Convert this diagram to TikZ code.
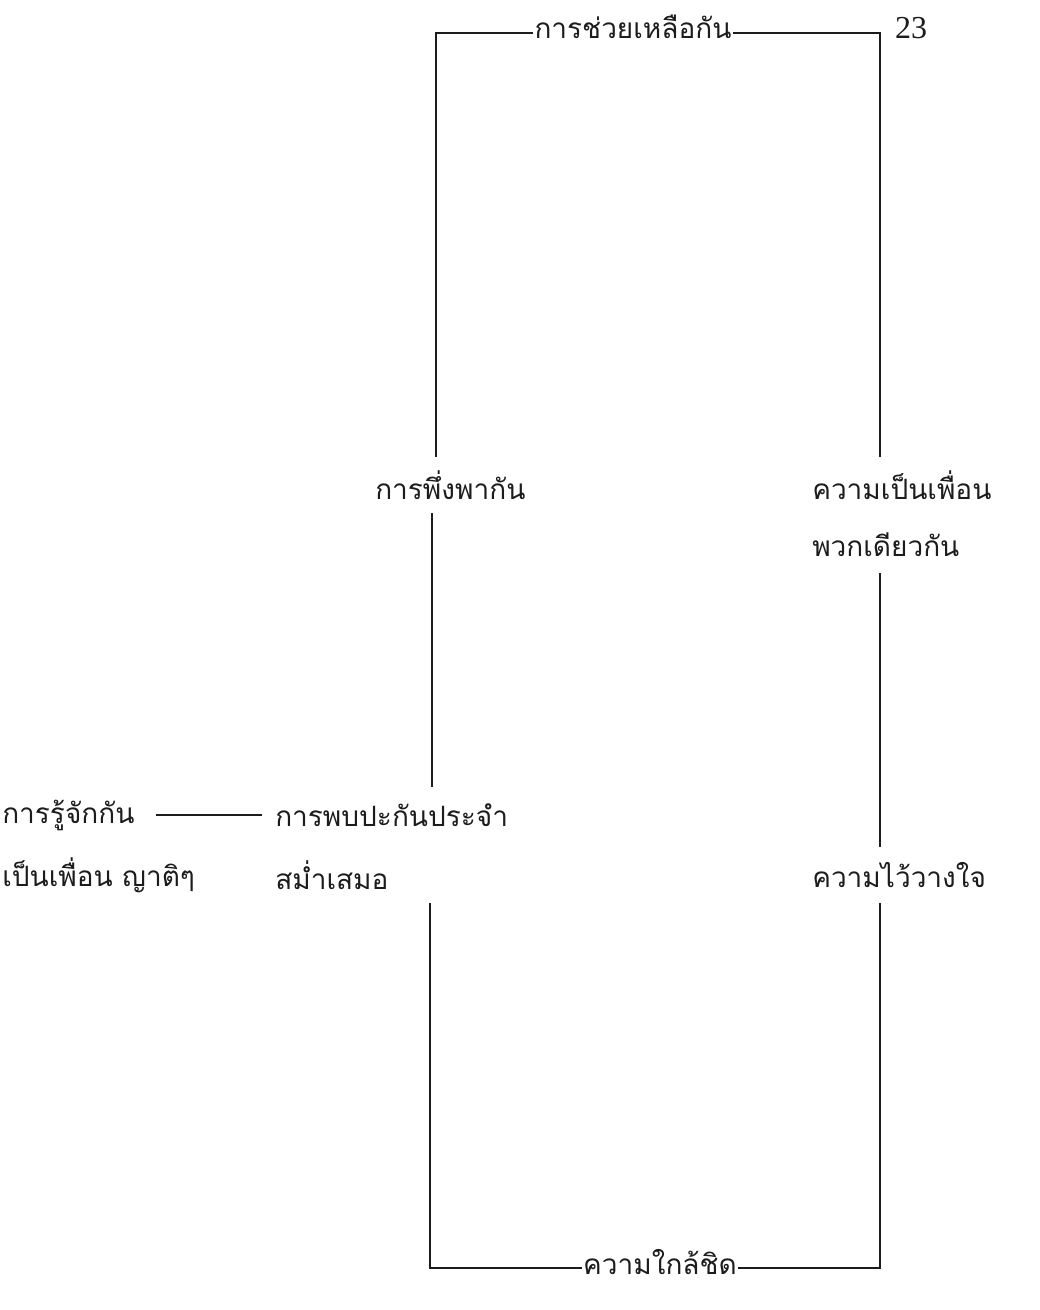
\documentclass[tikz,border=0pt]{standalone}
\usepackage{fontspec}
\setmainfont{Liberation Serif}
\newfontfamily\thaifont[Script=Thai]{Loma}
\usetikzlibrary{positioning}
\definecolor{ink}{HTML}{1C1C1C}
\tikzset{
  lbl/.style  = {font=\thaifont\fontsize{21}{25}\selectfont, text=ink,
                 inner xsep=0pt, inner ysep=0pt, minimum height=42pt, anchor=west},
  onln/.style = {font=\thaifont\fontsize{21}{25}\selectfont, text=ink,
                 inner xsep=1pt, inner ysep=0pt},
  link/.style = {draw=ink, line width=1.1pt},
}

\begin{document}
\begin{tikzpicture}[x=0.75pt,y=-0.75pt]
  \useasboundingbox (0,0) rectangle (1039,1310);
  \coordinate (tl) at (436,33);
  \coordinate (tr) at (880,33);
  \coordinate (ml) at (432,33);
  \coordinate (bl) at (430,1268);
  \coordinate (br) at (880,1268);
  \node[onln] (help) at (633,27) {การช่วยเหลือกัน};
  \node[onln] (close) at (660,1262) {ความใกล้ชิด};
  \node[font=\fontsize{24}{28}\selectfont, text=ink, inner sep=0pt] (page) at (911,28) {23};
  \node[lbl] (depend) at (375,485) {การพึ่งพากัน};
  \node[lbl] (friend) at (812,485) {ความเป็นเพื่อน};
  \node[lbl] (group) at (812,545) {พวกเดียวกัน};
  \node[lbl] (trust) at (812,875) {ความไว้วางใจ};
  \node[lbl] (know) at (2,815) {การรู้จักกัน};
  \node[lbl] (know2) at (2,875) {เป็นเพื่อน ญาติๆ};
  \node[lbl] (meet) at (275,815) {การพบปะกันประจำ};
  \node[lbl] (meet2) at (275,875) {สม่ำเสมอ};
  \draw[link] (help.west |- tl) -- (tl) -- (depend.north -| tl);
  \draw[link] (help.east |- tr) -- (tr) -- (friend.north -| tr);
  \draw[link] (depend.south -| ml) -- (meet.north -| ml);
  \draw[link] (group.south -| tr) -- (trust.north -| tr);
  \draw[link] (meet2.south -| bl) -- (bl) -- (close.west |- bl);
  \draw[link] (trust.south -| br) -- (br) -- (close.east |- br);
  \draw[link, shorten <=16pt, shorten >=10pt] (know.east) -- (meet.west);
\end{tikzpicture}
\end{document}
